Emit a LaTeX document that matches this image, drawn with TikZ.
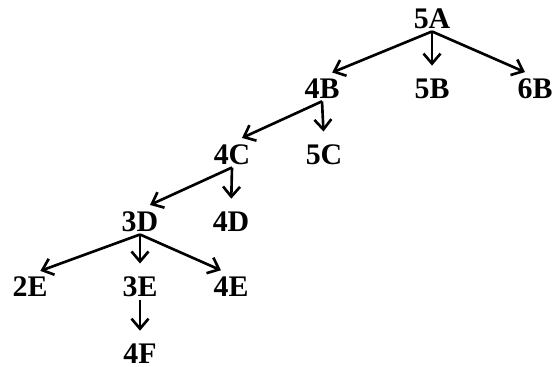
\documentclass[tikz,border=0pt]{standalone}
\usepackage{fontspec}
\setmainfont{Liberation Serif}
\usetikzlibrary{arrows.meta}
\tikzset{
  unit/.style={inner sep=0.5pt,font=\fontsize{8.5}{10}\selectfont\bfseries},
  link/.style={-{Straight Barb[length=1mm,width=1.7mm]},line width=0.75pt,
    shorten >=1.1mm}
}
\begin{document}
\begin{tikzpicture}[x=1cm,y=1cm]
  \useasboundingbox[fill=white] (0,0) rectangle (5.55,3.66);
  \node[unit] (a5) at (4.32,3.47) {5A};
  \node[unit] (b4) at (3.22,2.77) {4B};
  \node[unit] (b5) at (4.32,2.77) {5B};
  \node[unit] (b6) at (5.35,2.77) {6B};
  \node[unit] (c4) at (2.32,2.11) {4C};
  \node[unit] (c5) at (3.24,2.11) {5C};
  \node[unit] (d3) at (1.40,1.44) {3D};
  \node[unit] (d4) at (2.31,1.44) {4D};
  \node[unit] (e2) at (0.30,0.79) {2E};
  \node[unit] (e3) at (1.40,0.79) {3E};
  \node[unit] (e4) at (2.31,0.79) {4E};
  \node[unit] (f4) at (1.40,0.12) {4F};
  \draw[link] (a5.south) -- (b4.north);
  \draw[link] (a5.south) -- (b5.north);
  \draw[link] (a5.south) -- (b6.north);
  \draw[link] (b4.south) -- (c4.north);
  \draw[link] (b4.south) -- (c5.north);
  \draw[link] (c4.south) -- (d3.north);
  \draw[link] (c4.south) -- (d4.north);
  \draw[link] (d3.south) -- (e2.north);
  \draw[link] (d3.south) -- (e3.north);
  \draw[link] (d3.south) -- (e4.north);
  \draw[link] (e3.south) -- (f4.north);
\end{tikzpicture}
\end{document}
